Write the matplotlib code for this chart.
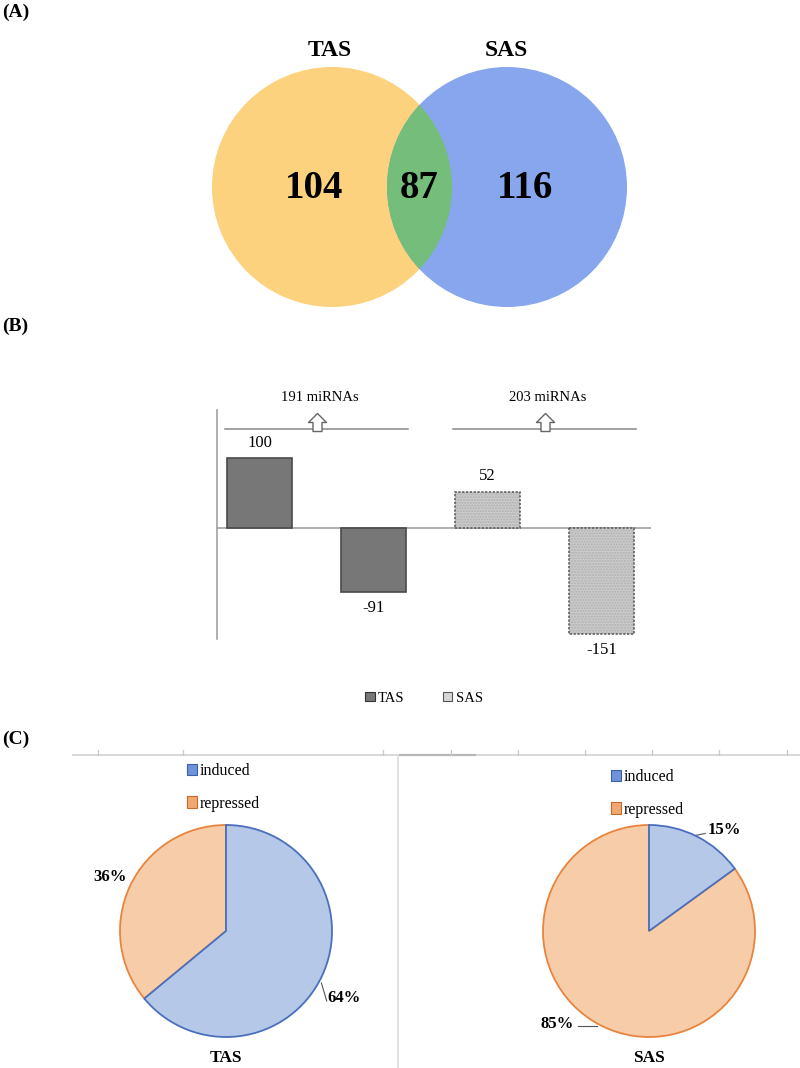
import matplotlib
matplotlib.use("Agg")
import matplotlib.pyplot as plt
from matplotlib.patches import Circle, Patch
from matplotlib.path import Path

# ---------------- data ----------------
venn_sets = ["TAS", "SAS"]
venn_counts = [104, 87, 116]          # only TAS, both, only SAS

bar_groups = ["TAS", "SAS"]
bar_values = [100, -91, 52, -151]     # TAS up, TAS down, SAS up, SAS down
bar_group_of = [0, 0, 1, 1]

pie_titles = ["TAS", "SAS"]
pie_labels = ["induced", "repressed"]
pie_tas = [64, 36]
pie_sas = [15, 85]

# ---------------- style ----------------
SERIF = ["Liberation Serif", "DejaVu Serif"]
plt.rcParams["font.family"] = SERIF
W, H = 800, 1068
fig = plt.figure(figsize=(W / 100, H / 100), dpi=100)


def px_axes(x0, y0, x1, y1, **kw):
    return fig.add_axes([x0 / W, 1 - y1 / H, (x1 - x0) / W, (y1 - y0) / H], **kw)


# overlay in pixel coordinates
ov = px_axes(0, 0, W, H, zorder=0)
ov.set_xlim(0, W)
ov.set_ylim(H, 0)
ov.axis("off")

# panel labels
for lab, y in [("(A)", 12), ("(B)", 326), ("(C)", 739)]:
    ov.text(2, y, lab, fontsize=14, fontweight="bold", va="center", ha="left")

# ---------------- (A) Venn ----------------
c_yellow, c_blue, c_green = "#fdd27f", "#88a6ee", "#74bd7a"
r = 120
cl = Circle((332, 187), r, fc=c_yellow, ec="none")
cr = Circle((507, 187), r, fc=c_blue, ec="none")
ov.add_patch(cl)
ov.add_patch(cr)
cg = Circle((507, 187), r, fc=c_green, ec="none")
ov.add_patch(cg)
cg.set_clip_path(cl)
ov.text(330, 50, venn_sets[0], fontsize=17, fontweight="bold", ha="center", va="center")
ov.text(506, 50, venn_sets[1], fontsize=17, fontweight="bold", ha="center", va="center")
for x, v in zip([314, 419, 525], venn_counts):
    ov.text(x, 189, str(v), fontsize=28, fontweight="bold", ha="center", va="center")

# ---------------- (B) bars ----------------
axb = px_axes(217, 410, 651, 639, zorder=2)
axb.patch.set_visible(False)
xs = list(range(len(bar_values)))
bw = 0.57
face = ["#777777", "#cbcbcb"]
edge = ["#4a4a4a", "#8a8a8a"]
for x, v, g in zip(xs, bar_values, bar_group_of):
    if g == 0:
        axb.bar(x, v, width=bw, color=face[0], edgecolor=edge[0], linewidth=1.2, zorder=2)
    else:
        axb.bar(x, v, width=bw, color=face[1], edgecolor="#b0b0b0", hatch="......",
                linewidth=0, zorder=2)
        axb.bar(x, v, width=bw, color="none", edgecolor="#555555", linestyle=(0, (1.5, 1)),
                linewidth=1.1, zorder=3)
    off = 11 if v > 0 else -12
    axb.annotate(str(v), (x, v), xytext=(0, off), textcoords="offset points",
                 ha="center", va="center", fontsize=12)
axb.axhline(0, color="#999999", lw=1.1, zorder=1)
axb.set_xlim(-0.373, 3.434)
axb.set_ylim(-158.6, 168.6)
for s in ["top", "right", "bottom"]:
    axb.spines[s].set_visible(False)
axb.spines["left"].set_color("#999999")
axb.spines["left"].set_linewidth(1.1)
axb.set_xticks([])
axb.set_yticks([])

# hollow up-arrow marker
up_arrow = Path([(-0.25, -0.5), (0.25, -0.5), (0.25, 0.0), (0.5, 0.0), (0.0, 0.5),
                 (-0.5, 0.0), (-0.25, 0.0), (-0.25, -0.5)],
                [Path.MOVETO] + [Path.LINETO] * 6 + [Path.CLOSEPOLY])

# group brackets
for gi, g in enumerate(bar_groups):
    members = [i for i, gg in enumerate(bar_group_of) if gg == gi]
    vals = [abs(bar_values[i]) for i in members]
    x0, x1 = min(members) - 0.30, max(members) + 0.30
    ymark = 141.5
    axb.plot([x0, x1], [ymark, ymark], color="#888888", lw=1.1, clip_on=False)
    xc = (min(members) + max(members)) / 2
    axb.plot([xc], [152], marker=up_arrow, markersize=13, mfc="white", mec="#666666",
             mew=1.0, clip_on=False, zorder=4)
    axb.text(xc + 0.03, 186, f"{sum(vals)} miRNAs", ha="center", va="center", fontsize=10.5)

fig.legend(handles=[Patch(fc=face[0], ec="#333333", lw=0.8), Patch(fc="#d6d6d6", ec="#555555", lw=0.8)],
           labels=bar_groups, loc="center", bbox_to_anchor=(424 / W, 1 - 698 / H), ncol=2,
           frameon=False, fontsize=10.5, handlelength=0.65, handleheight=0.65,
           handletextpad=0.25, columnspacing=2.6)

# ---------------- (C) pies ----------------
# frame line with ticks
ov.plot([73, W], [755, 755], color="#d4d4d4", lw=1.3)
ov.plot([400, 475], [755, 755], color="#b8b8b8", lw=1.6)
for tx in [98, 183, 383, 451, 518, 585, 652, 719, 787]:
    ov.plot([tx, tx], [755, 750], color="#c8c8c8", lw=0.9)
ov.plot([398, 398], [755, H], color="#dddddd", lw=1.2)

blue_f, blue_e = "#b5c8e8", "#4a6fbd"
orng_f, orng_e = "#f6cca9", "#e9843e"

pie_specs = [
    dict(vals=pie_tas, box=(120, 825, 332, 1037), leg=(187, 763),
         lab_pos=[(1.11, -0.63), (-1.09, 0.51)],
         leaders=[[(0.90, -0.49), (0.95, -0.66)], None]),
    dict(vals=pie_sas, box=(543, 825, 755, 1037), leg=(611, 769),
         lab_pos=[(0.70, 0.95), (-0.86, -0.88)],
         leaders=[[(0.43, 0.90), (0.53, 0.92)], [(-0.49, -0.90), (-0.67, -0.90)]]),
]

for title, spec in zip(pie_titles, pie_specs):
    ax = px_axes(*spec["box"], zorder=2)
    ax.patch.set_visible(False)
    wedges, _ = ax.pie(spec["vals"], colors=[blue_f, orng_f], startangle=90, counterclock=False,
                       radius=1.0, wedgeprops=dict(linewidth=1.3))
    wedges[0].set_edgecolor(blue_e)
    wedges[1].set_edgecolor(orng_e)
    wedges[0].set_zorder(3)
    ax.set_xlim(-1.0, 1.0)
    ax.set_ylim(-1.0, 1.0)
    tot = sum(spec["vals"])
    for v, (lx, ly), ld in zip(spec["vals"], spec["lab_pos"], spec["leaders"]):
        ha = "left" if lx > 0 else "right"
        ax.text(lx - (0.15 if lx > 0 else -0.15), ly, f"{round(100 * v / tot)}%", ha=ha, va="center",
                fontsize=12, fontweight="bold", clip_on=False)
        if ld:
            ax.plot([ld[0][0], ld[1][0]], [ld[0][1], ld[1][1]], color="#555555", lw=0.8, clip_on=False)
    ax.text(0, -1.2, title, ha="center", va="center", fontsize=12.5, fontweight="bold", clip_on=False)
    lx, ly = spec["leg"]
    fig.legend(handles=[Patch(fc="#6f93d8", ec="#3b5fa8", lw=0.8), Patch(fc="#f2a872", ec="#c96a2a", lw=0.8)],
               labels=pie_labels, loc="upper left", bbox_to_anchor=(lx / W, 1 - ly / H),
               frameon=False, fontsize=11.5, handlelength=0.6, handleheight=0.75,
               handletextpad=0.2, labelspacing=1.05, borderpad=0, borderaxespad=0)

fig.savefig("out.png", dpi=100)
